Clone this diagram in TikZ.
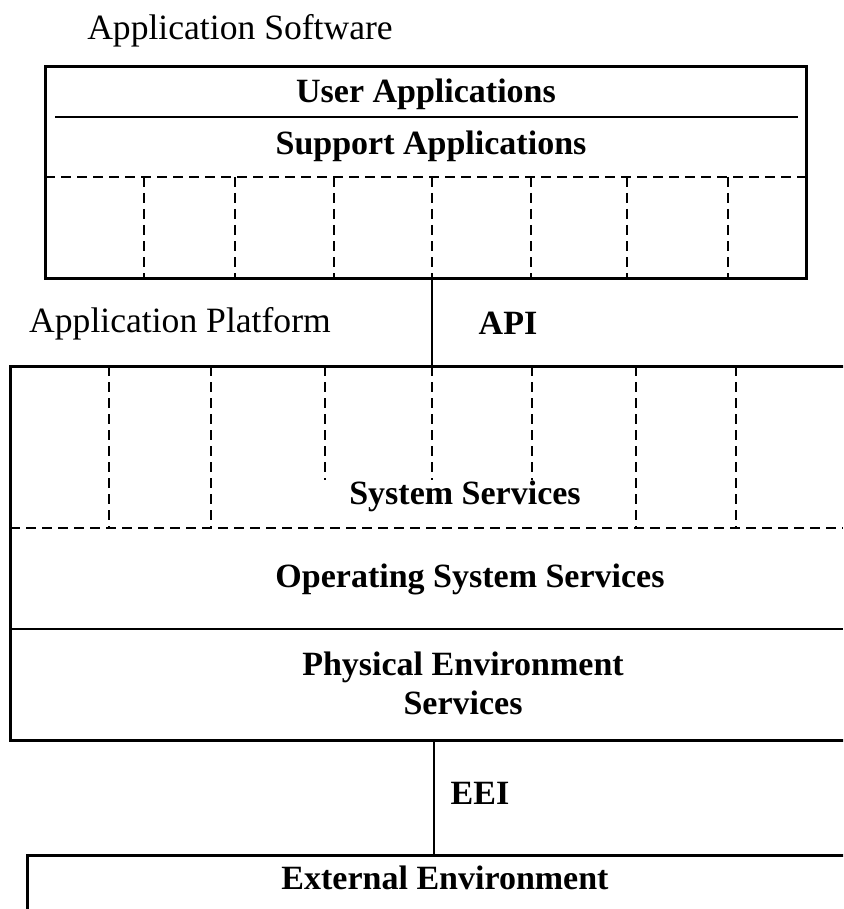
\documentclass[tikz,border=0pt]{standalone}
\usepackage{fontspec}
\setmainfont{Liberation Serif}
\usetikzlibrary{positioning}

\tikzset{
  layer/.style={draw, line width=1.5pt, inner sep=0pt, outer sep=0pt, fill=white},
  lbl/.style={font=\fontsize{17.8pt}{20pt}\selectfont},
  btxt/.style={font=\fontsize{17pt}{19.5pt}\selectfont\bfseries, align=center},
  divider/.style={line width=1pt},
  dashdiv/.style={line width=0.75pt, dash pattern=on 5pt off 3pt},
  conn/.style={line width=0.6pt}
}

\begin{document}
\begin{tikzpicture}[x=0.5pt, y=-0.5pt]

\clip (0,0) rectangle (843,909);

\node[lbl](appsw) at (240,31) {Application Software};

\coordinate(O1) at (45,67);
\node[below right=0cm of O1, layer, minimum width=380.5pt, minimum height=105.5pt](appbox) {};
\node[btxt](userapp) at (426,94) {User Applications};
\node[btxt](supportapp) at (431,146) {Support Applications};
\draw[divider] (55,117) -- (798,117);
\draw[dashdiv] (45,177) -- (806,177);
\draw[dashdiv] (144,177) -- (144,278) (235,177) -- (235,278) (334,177) -- (334,278)
  (432,177) -- (432,278) (531,177) -- (531,278) (627,177) -- (627,278) (728,177) -- (728,278);

\node[lbl](appplat) at (180,324) {Application Platform};
\node[btxt](api) at (508,323) {API};

\coordinate(O2) at (10,366);
\node[below right=0cm of O2, layer, minimum width=425pt, minimum height=187pt](platbox) {};
\draw[dashdiv] (109,366) -- (109,528) (211,366) -- (211,528) (636,366) -- (636,528) (736,366) -- (736,528);
\draw[dashdiv] (325,366) -- (325,480) (432,366) -- (432,480) (532,366) -- (532,480);
\draw[dashdiv] (10,528) -- (843,528);
\draw[divider] (10,629) -- (843,629);
\node[btxt](sysserv) at (465,496) {System Services};
\node[btxt](osserv) at (470,579) {Operating System Services};
\node[btxt](physserv) at (463,683) {Physical Environment\\Services};

\coordinate(O3) at (27,855);
\node[below right=0cm of O3, layer, minimum width=425pt, minimum height=50pt](extbox) {};
\node[btxt](extenv) at (445,878) {External Environment};
\node[btxt](eei) at (480,793) {EEI};

\coordinate(apix) at (432,0);
\coordinate(eeix) at (434,0);
\draw[conn] (appbox.south -| apix) -- (platbox.north -| apix);
\draw[conn] (platbox.south -| eeix) -- (extbox.north -| eeix);
\end{tikzpicture}
\end{document}
